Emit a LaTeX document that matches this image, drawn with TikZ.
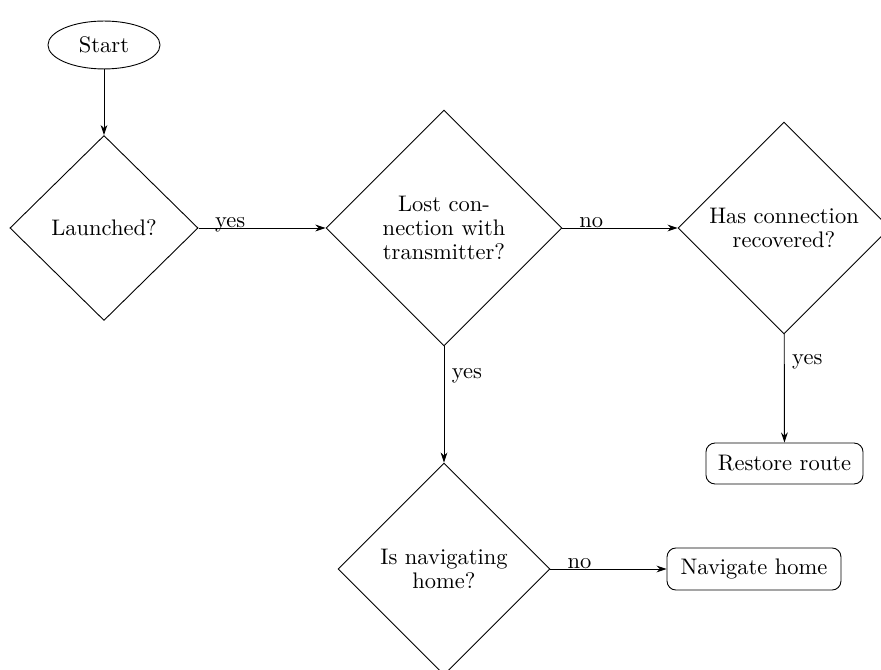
\documentclass[tikz,border=0pt]{standalone}
\usetikzlibrary{shapes.geometric,arrows.meta}
\begin{document}
\begin{tikzpicture}[x=0.4444pt,y=-0.4444pt,
  every node/.style={font=\fontsize{10pt}{10.5pt}\selectfont},
  startstop/.style={draw,ellipse,inner sep=0pt,minimum width=49.8pt,minimum height=21.3pt},
  decision/.style={draw,diamond,inner sep=0pt,align=center},
  process/.style={draw,rectangle,rounded corners=4pt,inner sep=0pt},
  flow/.style={-{Stealth[length=4.5pt,width=3pt]}},
  lbl/.style={near start},
  hlbl/.style={near start,anchor=base,inner sep=0pt}
]
\useasboundingbox (0,0) rectangle (881,670);
\clip (0,0) rectangle (881,670);

\node[startstop] (start) at (104,45) {Start};
\node[decision,minimum width=83.6pt,minimum height=82.2pt] (launched) at (104,228) {Launched?};
\node[decision,minimum width=104.9pt,minimum height=104.9pt] (lost) at (444,228) {Lost con-\\nection with\\transmitter?};
\node[decision,minimum width=94.2pt,minimum height=94.2pt] (recovered) at (784,228) {Has connection\\recovered?};
\node[process,minimum width=69.8pt,minimum height=18.2pt] (restore) at (784.5,463.5) {Restore route};
\node[decision,minimum width=94.2pt,minimum height=94.2pt] (navhome) at (444,569) {Is navigating\\home?};
\node[process,minimum width=77.3pt,minimum height=18.7pt] (gohome) at (754,569) {Navigate home};

\draw[flow] (start) -- (launched);
\draw[flow] (launched) -- node[hlbl] {yes} (lost);
\draw[flow] (lost) -- node[hlbl] {no} (recovered);
\draw[flow] (lost) -- node[lbl,right] {yes} (navhome);
\draw[flow] (recovered) -- node[lbl,right] {yes} (restore);
\draw[flow] (navhome) -- node[hlbl] {no} (gohome);
\end{tikzpicture}
\end{document}
